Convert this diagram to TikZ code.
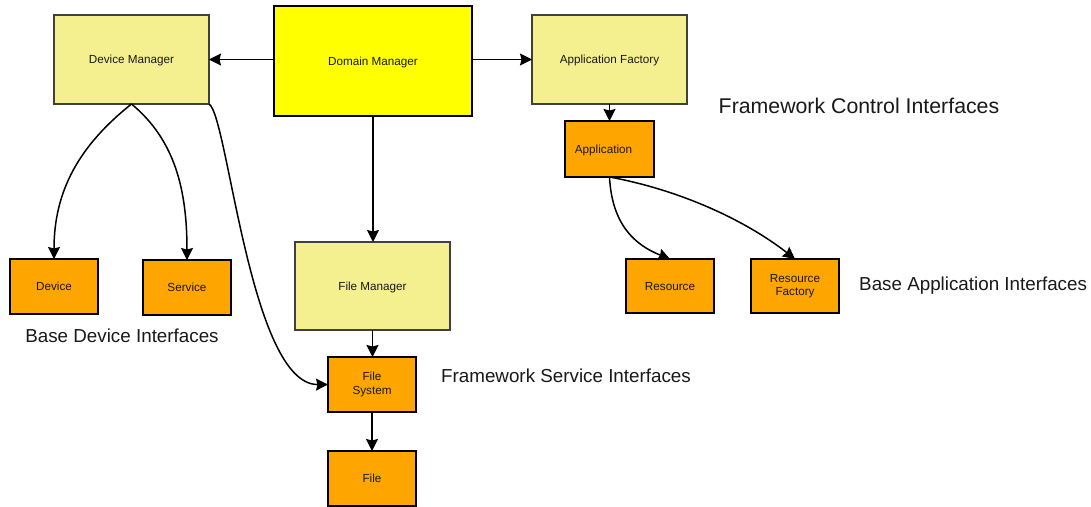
\documentclass[tikz,border=0pt]{standalone}
\usepackage{fontspec}
\setmainfont{Liberation Sans}
\usetikzlibrary{arrows.meta}
\definecolor{lightyel}{RGB}{245,240,143}
\definecolor{domyel}{RGB}{255,255,0}
\definecolor{orng}{RGB}{255,165,0}
\begin{document}
\begin{tikzpicture}[x=1pt,y=-1pt,
  box/.style={rectangle, line width=1.4pt, inner sep=0pt, outer sep=0pt, align=center,
    font=\fontsize{11.7}{13.5}\selectfont, text=black!90},
  oneline/.style={text depth=0pt},
  mgr/.style={box, oneline, draw=black!75, fill=lightyel, minimum width=155pt, minimum height=89pt},
  dom/.style={box, oneline, draw=black, line width=1.6pt, fill=domyel, minimum width=198pt, minimum height=110pt},
  iface/.style={box, draw=black, line width=1.6pt, fill=orng, minimum width=88pt, minimum height=55pt},
  biglabel/.style={inner sep=0pt, font=\fontsize{18.8}{22}\selectfont, text=black!90},
  conn/.style={line width=1.5pt, -{Stealth[length=12pt,width=12pt,inset=1.5pt]}}
]
\useasboundingbox (0,0) rectangle (1091,506);
\fill[white] (0,0) rectangle (1091,506);

% nodes
\node[mgr] (devmgr) at (131.5,59.5) {Device Manager};
\node[dom] (dommgr) at (373,61) {Domain Manager};
\node[mgr] (appfac) at (609.5,59.5) {Application Factory};
\node[iface, oneline, minimum width=89pt, minimum height=56pt] (app) at (609.5,149) {\hspace*{-12pt}Application};
\node[iface, oneline, minimum height=54pt] (res) at (670,286) {Resource};
\node[iface, minimum height=54pt] (resfac) at (795,286) {Resource\\Factory};
\node[iface, oneline] (dev) at (54,286.5) {Device};
\node[iface, oneline] (svc) at (187,287.5) {Service};
\node[mgr, minimum height=88pt] (filemgr) at (372.5,286) {File Manager};
\node[iface] (filesys) at (372,384.5) {File\\System};
\node[iface, oneline] (file) at (372,478.5) {File};

% group labels
\node[biglabel, font=\fontsize{21.3}{25}\selectfont] (fci) at (859,106) {Framework Control Interfaces};
\node[biglabel, anchor=west] (bai) at (859,286) {Base Application Interfaces};
\node[biglabel] (bdi) at (122,336) {Base Device Interfaces};
\node[biglabel] (fsi) at (566,376) {Framework Service Interfaces};

% connectors
\draw[conn] (dommgr.west |- devmgr.east) -- (devmgr.east);
\draw[conn] (dommgr.east |- appfac.west) -- (appfac.west);
\draw[conn] (dommgr.south) -- (dommgr.south |- filemgr.north);
\draw[conn] (appfac.south) -- (appfac.south |- app.north);
\draw[conn] (filemgr.south) -- (filemgr.south |- filesys.north);
\draw[conn] (filesys.south) -- (file.north);

\draw[conn] (devmgr.south) .. controls (80,145) and (54,190) .. (dev.north);
\draw[conn] (devmgr.south) .. controls (175,140) and (187,190) .. (svc.north);
\draw[conn] (devmgr.south east) .. controls (228,115) and (250,385) .. (filesys.west);

\draw[conn] (app.south) .. controls (612,225) and (635,245) .. (res.north);
\draw[conn] (app.south) .. controls (680,190) and (745,220) .. (resfac.north);
\end{tikzpicture}
\end{document}
